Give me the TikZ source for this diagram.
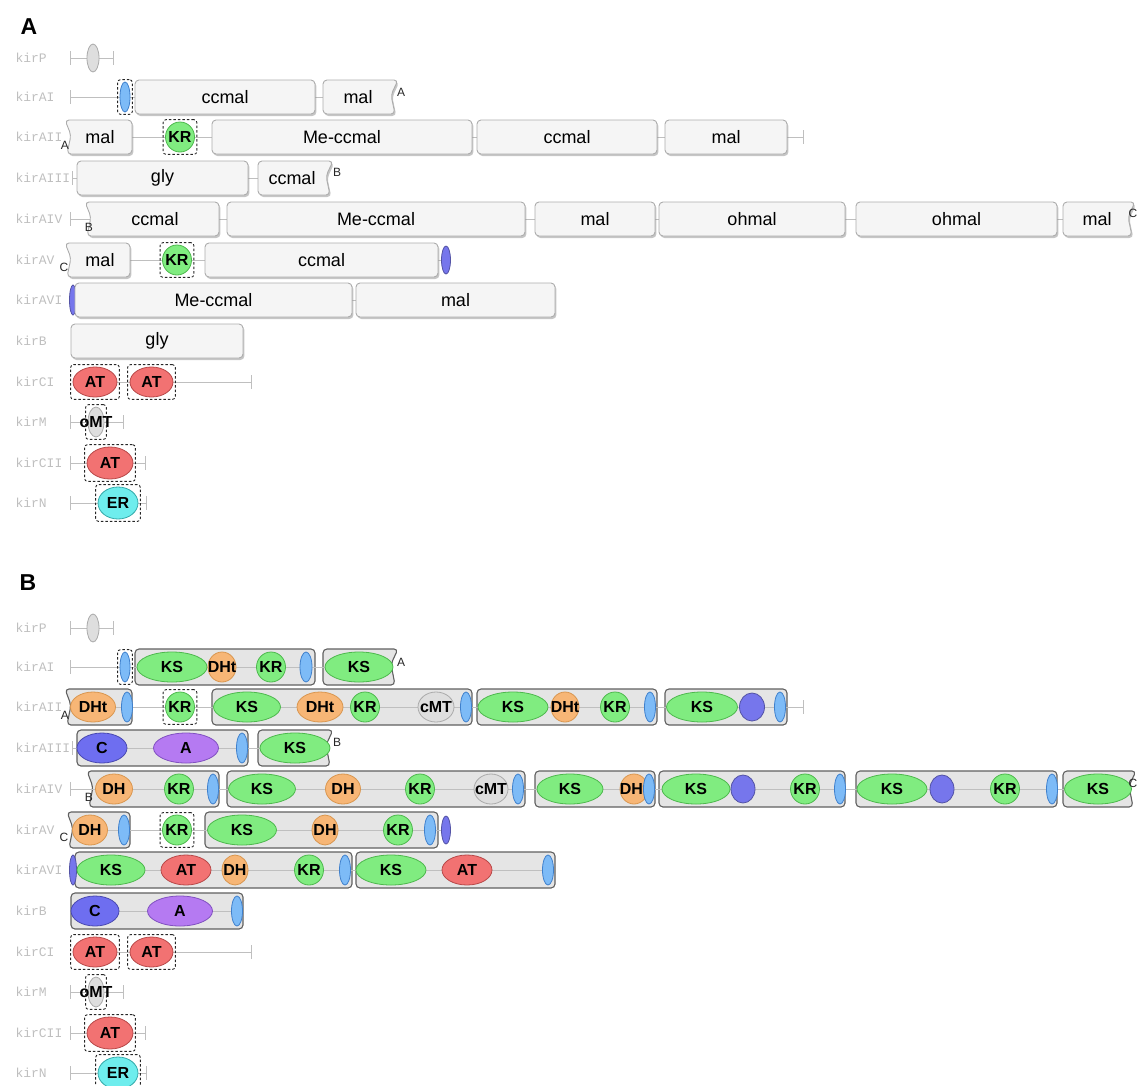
\documentclass[tikz,border=0pt]{standalone}
\usepackage{fontspec}
\setmainfont{Liberation Sans}
\setmonofont{Liberation Mono}
\usetikzlibrary{shapes.geometric,fit,shadows}
\definecolor{ksfill}{HTML}{80EC80}
\definecolor{ksline}{HTML}{4DB84D}
\definecolor{dhfill}{HTML}{F7B676}
\definecolor{dhline}{HTML}{D9964F}
\definecolor{atfill}{HTML}{F27272}
\definecolor{atline}{HTML}{B84848}
\definecolor{acpfill}{HTML}{7DBBF7}
\definecolor{acpline}{HTML}{3F80CC}
\definecolor{cfill}{HTML}{6E6EF0}
\definecolor{cline}{HTML}{4848B0}
\definecolor{afill}{HTML}{B57AF2}
\definecolor{aline}{HTML}{8050C0}
\definecolor{mtfill}{HTML}{DEDEDE}
\definecolor{mtline}{HTML}{AAAAAA}
\definecolor{erfill}{HTML}{6EEDED}
\definecolor{erline}{HTML}{33AAAA}
\definecolor{tefill}{HTML}{7676EC}
\pgfdeclarelayer{modl}
\pgfdeclarelayer{line}
\pgfsetlayers{modl,line,main}

\begin{document}
\begin{tikzpicture}[x=1pt, y=-1pt,
    gname/.style={anchor=west, font=\ttfamily\fontsize{13}{13}\selectfont, text=gray!50},
    panel/.style={font=\bfseries\fontsize{23}{23}\selectfont, inner sep=0pt},
    nlet/.style={font=\fontsize{12}{12}\selectfont, text=gray!30!black, inner sep=0pt},
    bb/.style={draw=gray!50, line width=0.8pt},
    box/.style={rectangle, rounded corners=4pt, fill=gray!8, draw=gray!65, line width=0.9pt, minimum height=34pt, inner sep=0pt, font=\fontsize{18}{18}\selectfont, drop shadow={shadow xshift=1.4pt, shadow yshift=-2pt, opacity=0.45}},
    boxedge/.style={rounded corners=4pt, fill=gray!8, draw=gray!65, line width=0.9pt, drop shadow={shadow xshift=1.4pt, shadow yshift=-2pt, opacity=0.45}},
    boxtxt/.style={font=\fontsize{18}{18}\selectfont, inner sep=0pt},
    mdl/.style={rectangle, rounded corners=4pt, fill=gray!20, draw=gray!75!black, line width=1.1pt, minimum height=36pt, inner sep=0pt},
    mdledge/.style={rounded corners=4pt, fill=gray!20, draw=gray!75!black, line width=1.1pt},
    dlab/.style={font=\bfseries\fontsize{16}{16}\selectfont, inner sep=0pt},
    dom/.style={ellipse, inner sep=0pt, minimum height=30pt, line width=0.8pt, label={[dlab]center:#1}},
    ks/.style={dom=KS, fill=ksfill, draw=ksline},
    kr/.style={dom=KR, fill=ksfill, draw=ksline, minimum width=29pt},
    dh/.style={dom=#1, fill=dhfill, draw=dhline},
    atd/.style={dom=AT, fill=atfill, draw=atline},
    acp/.style={dom={}, fill=acpfill, draw=acpline, minimum width=11pt},
    cd/.style={dom=C, fill=cfill, draw=cline},
    ad/.style={dom=A, fill=afill, draw=aline},
    mt/.style={dom=#1, fill=mtfill, draw=mtline},
    er/.style={dom=ER, fill=erfill, draw=erline},
    te/.style={dom={}, fill=tefill, draw=tefill!70!black},
    dbox/.style={draw=gray!30!black, dash pattern=on 2.5pt off 2pt, rounded corners=3pt, inner sep=2pt, line width=0.9pt}]
\useasboundingbox (0, 0) rectangle (1138, 1085);

% ---------- A ----------
\node [panel] (pA) at (29, 27) {A};
\node [gname] (nAP) at (12, 58) {kirP};
\node [gname] (nAI) at (12, 97) {kirAI};
\node [gname] (nAII) at (12, 137) {kirAII};
\node [gname] (nAIII) at (12, 178) {kirAIII};
\node [gname] (nAIV) at (12, 219) {kirAIV};
\node [gname] (nAV) at (12, 260) {kirAV};
\node [gname] (nAVI) at (12, 300) {kirAVI};
\node [gname] (nAB) at (12, 341) {kirB};
\node [gname] (nACI) at (12, 382) {kirCI};
\node [gname] (nAM) at (12, 422) {kirM};
\node [gname] (nACII) at (12, 463) {kirCII};
\node [gname] (nAN) at (12, 503) {kirN};

% kirP
\coordinate (aP0) at (70, 58);
\coordinate (aP1) at (113, 58);
\node [mt={}, minimum width=12pt, minimum height=28pt] (aPmt) at (93, 58) {};

% kirAI
\coordinate (aI0) at (70, 97);
\node [acp, minimum width=10pt] (aIacp) at (125, 97) {};
\node [dbox, fit=(aIacp)] (aIacpb) {};
\node [box, minimum width=180pt] (aIm1) at (225, 97) {ccmal};
\draw [boxedge] (323, 80) -- (398, 80) -- (391, 95) -- (395, 114) -- (323, 114) -- cycle;
\node [boxtxt] (aIm2) at (358, 97) {mal};
\node [nlet] (aIA) at (401, 92) {A};

% kirAII
\draw [boxedge] (65, 120) -- (132, 120) -- (132, 154) -- (67, 154) -- (71, 135) -- cycle;
\node [boxtxt] (aIIm1) at (100, 137) {mal};
\node [nlet] (aIIA) at (65, 145) {A};
\node [kr] (aIIkr) at (180, 137) {};
\node [dbox, fit=(aIIkr)] (aIIkrb) {};
\node [box, minimum width=260pt] (aIIm2) at (342, 137) {Me-ccmal};
\node [box, minimum width=180pt] (aIIm3) at (567, 137) {ccmal};
\node [box, minimum width=122pt] (aIIm4) at (726, 137) {mal};
\coordinate (aII1) at (803, 137);

% kirAIII
\coordinate (aIII0) at (72, 178);
\node [box, minimum width=171pt] (aIIIm1) at (162.5, 178) {gly};
\draw [boxedge] (258, 161) -- (333, 161) -- (326, 176) -- (330, 195) -- (258, 195) -- cycle;
\node [boxtxt] (aIIIm2) at (292, 178) {ccmal};
\node [nlet] (aIIIB) at (337, 172) {B};

% kirAIV
\coordinate (aIV0) at (70, 219);
\draw [boxedge] (85, 202) -- (219, 202) -- (219, 236) -- (87, 236) -- (91, 217) -- cycle;
\node [boxtxt] (aIVm1) at (155, 219) {ccmal};
\node [nlet] (aIVB) at (89, 227) {B};
\node [box, minimum width=298pt] (aIVm2) at (376, 219) {Me-ccmal};
\node [box, minimum width=120pt] (aIVm3) at (595, 219) {mal};
\node [box, minimum width=186pt] (aIVm4) at (752, 219) {ohmal};
\node [box, minimum width=201pt] (aIVm5) at (956.5, 219) {ohmal};
\draw [boxedge] (1063, 202) -- (1135, 202) -- (1128, 217) -- (1132, 236) -- (1063, 236) -- cycle;
\node [boxtxt] (aIVm6) at (1097, 219) {mal};
\node [nlet] (aIVC) at (1133, 213) {C};

% kirAV
\draw [boxedge] (65, 243) -- (130, 243) -- (130, 277) -- (67, 277) -- (71, 258) -- cycle;
\node [boxtxt] (aVm1) at (100, 260) {mal};
\node [nlet] (aVC) at (64, 267) {C};
\node [kr] (aVkr) at (177, 260) {};
\node [dbox, fit=(aVkr)] (aVkrb) {};
\node [box, minimum width=233pt] (aVm2) at (321.5, 260) {ccmal};
\node [te, minimum width=9pt, minimum height=28pt] (aVte) at (446, 260) {};

% kirAVI
\node [te, minimum width=7pt] (aVIte) at (73, 300) {};
\node [box, minimum width=277pt] (aVIm1) at (213.5, 300) {Me-ccmal};
\node [box, minimum width=199pt] (aVIm2) at (455.5, 300) {mal};

% kirB
\node [box, minimum width=172pt] (aBm1) at (157, 341) {gly};

% kirCI
\node [atd, minimum width=44pt] (aCIat1) at (95, 382) {};
\node [dbox, fit=(aCIat1)] (aCIat1b) {};
\node [atd, minimum width=43pt] (aCIat2) at (151.5, 382) {};
\node [dbox, fit=(aCIat2)] (aCIat2b) {};
\coordinate (aCI1) at (251, 382);

% kirM
\coordinate (aM0) at (70, 422);
\node [mt=oMT, minimum width=16pt] (aMmt) at (96, 422) {};
\node [dbox, fit=(aMmt)] (aMmtb) {};
\coordinate (aM1) at (123, 422);

% kirCII
\coordinate (aCII0) at (70, 463);
\node [atd, minimum width=46pt, minimum height=32pt] (aCIIat) at (110, 463) {};
\node [dbox, fit=(aCIIat)] (aCIIatb) {};
\coordinate (aCII1) at (145, 463);

% kirN
\coordinate (aN0) at (70, 503);
\node [er, minimum width=40pt, minimum height=32pt] (aNer) at (118, 503) {};
\node [dbox, fit=(aNer)] (aNerb) {};
\coordinate (aN1) at (146, 503);

\begin{pgfonlayer}{line}
    \draw [bb] (aP0) -- (aP1);
    \draw [bb] (aI0) -- (aIm2);
    \draw [bb] (aIIm1) -- (aII1);
    \draw [bb] (aIII0) -- (aIIIm2);
    \draw [bb] (aIV0) -- (aIVm6);
    \draw [bb] (aVm1) -- (aVte);
    \draw [bb] (aVIte) -- (aVIm2);
    \draw [bb] (aCIat1) -- (aCI1);
    \draw [bb] (aM0) -- (aM1);
    \draw [bb] (aCII0) -- (aCII1);
    \draw [bb] (aN0) -- (aN1);
    \draw [bb] ([yshift=7pt] aP0) -- ([yshift=-7pt] aP0);
    \draw [bb] ([yshift=7pt] aP1) -- ([yshift=-7pt] aP1);
    \draw [bb] ([yshift=7pt] aI0) -- ([yshift=-7pt] aI0);
    \draw [bb] ([yshift=7pt] aII1) -- ([yshift=-7pt] aII1);
    \draw [bb] ([yshift=7pt] aIII0) -- ([yshift=-7pt] aIII0);
    \draw [bb] ([yshift=7pt] aIV0) -- ([yshift=-7pt] aIV0);
    \draw [bb] ([yshift=7pt] aCI1) -- ([yshift=-7pt] aCI1);
    \draw [bb] ([yshift=7pt] aM0) -- ([yshift=-7pt] aM0);
    \draw [bb] ([yshift=7pt] aM1) -- ([yshift=-7pt] aM1);
    \draw [bb] ([yshift=7pt] aCII0) -- ([yshift=-7pt] aCII0);
    \draw [bb] ([yshift=7pt] aCII1) -- ([yshift=-7pt] aCII1);
    \draw [bb] ([yshift=7pt] aN0) -- ([yshift=-7pt] aN0);
    \draw [bb] ([yshift=7pt] aN1) -- ([yshift=-7pt] aN1);
\end{pgfonlayer}

% ---------- B ----------
\node [panel] (pB) at (28, 583) {B};
\node [gname] (nBP) at (12, 628) {kirP};
\node [gname] (nBI) at (12, 667) {kirAI};
\node [gname] (nBII) at (12, 707) {kirAII};
\node [gname] (nBIII) at (12, 748) {kirAIII};
\node [gname] (nBIV) at (12, 789) {kirAIV};
\node [gname] (nBV) at (12, 830) {kirAV};
\node [gname] (nBVI) at (12, 870) {kirAVI};
\node [gname] (nBB) at (12, 911) {kirB};
\node [gname] (nBCI) at (12, 952) {kirCI};
\node [gname] (nBM) at (12, 992) {kirM};
\node [gname] (nBCII) at (12, 1033) {kirCII};
\node [gname] (nBN) at (12, 1073) {kirN};

% modules
\begin{pgfonlayer}{modl}
    \node [mdl, minimum width=180pt] (bIm1) at (225, 667) {};
    \draw [mdledge] (323, 649) -- (398, 649) -- (391, 664) -- (395, 685) -- (323, 685) -- cycle;
    \draw [mdledge] (65, 689) -- (132, 689) -- (132, 725) -- (67, 725) -- (71, 705) -- cycle;
    \node [mdl, minimum width=260pt] (bIIm2) at (342, 707) {};
    \node [mdl, minimum width=180pt] (bIIm3) at (567, 707) {};
    \node [mdl, minimum width=122pt] (bIIm4) at (726, 707) {};
    \node [mdl, minimum width=171pt] (bIIIm1) at (162.5, 748) {};
    \draw [mdledge] (258, 730) -- (333, 730) -- (326, 745) -- (330, 766) -- (258, 766) -- cycle;
    \draw [mdledge] (87, 771) -- (219, 771) -- (219, 807) -- (89, 807) -- (93, 787) -- cycle;
    \node [mdl, minimum width=298pt] (bIVm2) at (376, 789) {};
    \node [mdl, minimum width=120pt] (bIVm3) at (595, 789) {};
    \node [mdl, minimum width=186pt] (bIVm4) at (752, 789) {};
    \node [mdl, minimum width=201pt] (bIVm5) at (956.5, 789) {};
    \draw [mdledge] (1063, 771) -- (1136, 771) -- (1129, 786) -- (1133, 807) -- (1063, 807) -- cycle;
    \draw [mdledge] (67, 812) -- (130, 812) -- (130, 848) -- (69, 848) -- (73, 828) -- cycle;
    \node [mdl, minimum width=233pt] (bVm2) at (321.5, 830) {};
    \node [mdl, minimum width=277pt] (bVIm1) at (213.5, 870) {};
    \node [mdl, minimum width=199pt] (bVIm2) at (455.5, 870) {};
    \node [mdl, minimum width=172pt] (bBm1) at (157, 911) {};
\end{pgfonlayer}

% kirP
\coordinate (bP0) at (70, 628);
\coordinate (bP1) at (113, 628);
\node [mt={}, minimum width=12pt, minimum height=28pt] (bPmt) at (93, 628) {};

% kirAI
\coordinate (bI0) at (70, 667);
\node [acp, minimum width=10pt] (bIacp1) at (125, 667) {};
\node [dbox, fit=(bIacp1)] (bIacp1b) {};
\node [ks, minimum width=70pt] (bIks1) at (172, 667) {};
\node [dh=DHt, minimum width=28pt] (bIdh) at (222, 667) {};
\node [kr] (bIkr) at (271, 667) {};
\node [acp, minimum width=12pt] (bIacp2) at (306, 667) {};
\node [ks, minimum width=68pt] (bIks2) at (359, 667) {};
\node [nlet] (bIA) at (401, 662) {A};

% kirAII
\node [dh=DHt, minimum width=45pt] (bIIdh1) at (93, 707) {};
\node [acp] (bIIacp1) at (127, 707) {};
\node [nlet] (bIIA) at (65, 715) {A};
\node [kr] (bIIkr1) at (180, 707) {};
\node [dbox, fit=(bIIkr1)] (bIIkr1b) {};
\node [ks, minimum width=67pt] (bIIks1) at (247, 707) {};
\node [dh=DHt, minimum width=46pt] (bIIdh2) at (320, 707) {};
\node [kr] (bIIkr2) at (365, 707) {};
\node [mt=cMT, minimum width=36pt] (bIImt) at (436, 707) {};
\node [acp] (bIIacp2) at (466, 707) {};
\node [ks, minimum width=70pt] (bIIks2) at (513, 707) {};
\node [dh=DHt, minimum width=28pt] (bIIdh3) at (565, 707) {};
\node [kr] (bIIkr3) at (615, 707) {};
\node [acp] (bIIacp3) at (650, 707) {};
\node [ks, minimum width=71pt] (bIIks3) at (702, 707) {};
\node [te, minimum width=25pt, minimum height=28pt] (bIIte) at (752, 707) {};
\node [acp] (bIIacp4) at (780, 707) {};
\coordinate (bII1) at (803, 707);

% kirAIII
\coordinate (bIII0) at (72, 748);
\node [cd, minimum width=50pt] (bIIIc) at (102, 748) {};
\node [ad, minimum width=65pt] (bIIIa) at (186, 748) {};
\node [acp] (bIIIacp) at (242, 748) {};
\node [ks, minimum width=70pt] (bIIIks) at (295, 748) {};
\node [nlet] (bIIIB) at (337, 742) {B};

% kirAIV
\coordinate (bIV0) at (70, 789);
\node [dh=DH, minimum width=37pt] (bIVdh1) at (114, 789) {};
\node [kr] (bIVkr1) at (179, 789) {};
\node [acp] (bIVacp1) at (213, 789) {};
\node [nlet] (bIVB) at (89, 797) {B};
\node [ks, minimum width=67pt] (bIVks1) at (262, 789) {};
\node [dh=DH, minimum width=35pt] (bIVdh2) at (343, 789) {};
\node [kr] (bIVkr2) at (420, 789) {};
\node [mt=cMT, minimum width=34pt] (bIVmt) at (491, 789) {};
\node [acp] (bIVacp2) at (518, 789) {};
\node [ks, minimum width=66pt] (bIVks2) at (570, 789) {};
\node [dh=DHt, minimum width=28pt] (bIVdh3) at (634, 789) {};
\node [acp] (bIVacp3) at (649, 789) {};
\node [ks, minimum width=68pt] (bIVks3) at (696, 789) {};
\node [te, minimum width=24pt, minimum height=28pt] (bIVte1) at (743, 789) {};
\node [kr] (bIVkr3) at (805, 789) {};
\node [acp] (bIVacp4) at (840, 789) {};
\node [ks, minimum width=70pt] (bIVks4) at (892, 789) {};
\node [te, minimum width=24pt, minimum height=28pt] (bIVte2) at (942, 789) {};
\node [kr] (bIVkr4) at (1005, 789) {};
\node [acp] (bIVacp5) at (1052, 789) {};
\node [ks, minimum width=67pt] (bIVks5) at (1098, 789) {};
\node [nlet] (bIVC) at (1133, 783) {C};

% kirAV
\node [dh=DH, minimum width=35pt] (bVdh1) at (90, 830) {};
\node [acp] (bVacp1) at (124, 830) {};
\node [nlet] (bVC) at (64, 837) {C};
\node [kr] (bVkr1) at (177, 830) {};
\node [dbox, fit=(bVkr1)] (bVkr1b) {};
\node [ks, minimum width=69pt] (bVks) at (242, 830) {};
\node [dh=DH, minimum width=26pt] (bVdh2) at (325, 830) {};
\node [kr] (bVkr2) at (398, 830) {};
\node [acp] (bVacp2) at (430, 830) {};
\node [te, minimum width=9pt, minimum height=28pt] (bVte) at (446, 830) {};

% kirAVI
\node [te, minimum width=7pt] (bVIte) at (73, 870) {};
\node [ks, minimum width=68pt] (bVIks1) at (111, 870) {};
\node [atd, minimum width=50pt] (bVIat1) at (186, 870) {};
\node [dh=DH, minimum width=26pt] (bVIdh) at (235, 870) {};
\node [kr] (bVIkr) at (309, 870) {};
\node [acp] (bVIacp1) at (345, 870) {};
\node [ks, minimum width=70pt] (bVIks2) at (391, 870) {};
\node [atd, minimum width=50pt] (bVIat2) at (467, 870) {};
\node [acp] (bVIacp2) at (548, 870) {};

% kirB
\node [cd, minimum width=48pt] (bBc) at (95, 911) {};
\node [ad, minimum width=65pt] (bBa) at (180, 911) {};
\node [acp] (bBacp) at (237, 911) {};

% kirCI
\node [atd, minimum width=44pt] (bCIat1) at (95, 952) {};
\node [dbox, fit=(bCIat1)] (bCIat1b) {};
\node [atd, minimum width=43pt] (bCIat2) at (151.5, 952) {};
\node [dbox, fit=(bCIat2)] (bCIat2b) {};
\coordinate (bCI1) at (251, 952);

% kirM
\coordinate (bM0) at (70, 992);
\node [mt=oMT, minimum width=16pt] (bMmt) at (96, 992) {};
\node [dbox, fit=(bMmt)] (bMmtb) {};
\coordinate (bM1) at (123, 992);

% kirCII
\coordinate (bCII0) at (70, 1033);
\node [atd, minimum width=46pt, minimum height=32pt] (bCIIat) at (110, 1033) {};
\node [dbox, fit=(bCIIat)] (bCIIatb) {};
\coordinate (bCII1) at (145, 1033);

% kirN
\coordinate (bN0) at (70, 1073);
\node [er, minimum width=40pt, minimum height=32pt] (bNer) at (118, 1073) {};
\node [dbox, fit=(bNer)] (bNerb) {};
\coordinate (bN1) at (146, 1073);

\begin{pgfonlayer}{line}
    \draw [bb] (bP0) -- (bP1);
    \draw [bb] (bI0) -- (bIks2);
    \draw [bb] (bIIdh1) -- (bII1);
    \draw [bb] (bIII0) -- (bIIIks);
    \draw [bb] (bIV0) -- (bIVks5);
    \draw [bb] (bVdh1) -- (bVte);
    \draw [bb] (bVIte) -- (bVIacp2);
    \draw [bb] (bBc) -- (bBacp);
    \draw [bb] (bCIat1) -- (bCI1);
    \draw [bb] (bM0) -- (bM1);
    \draw [bb] (bCII0) -- (bCII1);
    \draw [bb] (bN0) -- (bN1);
    \draw [bb] ([yshift=7pt] bP0) -- ([yshift=-7pt] bP0);
    \draw [bb] ([yshift=7pt] bP1) -- ([yshift=-7pt] bP1);
    \draw [bb] ([yshift=7pt] bI0) -- ([yshift=-7pt] bI0);
    \draw [bb] ([yshift=7pt] bII1) -- ([yshift=-7pt] bII1);
    \draw [bb] ([yshift=7pt] bIII0) -- ([yshift=-7pt] bIII0);
    \draw [bb] ([yshift=7pt] bIV0) -- ([yshift=-7pt] bIV0);
    \draw [bb] ([yshift=7pt] bCI1) -- ([yshift=-7pt] bCI1);
    \draw [bb] ([yshift=7pt] bM0) -- ([yshift=-7pt] bM0);
    \draw [bb] ([yshift=7pt] bM1) -- ([yshift=-7pt] bM1);
    \draw [bb] ([yshift=7pt] bCII0) -- ([yshift=-7pt] bCII0);
    \draw [bb] ([yshift=7pt] bCII1) -- ([yshift=-7pt] bCII1);
    \draw [bb] ([yshift=7pt] bN0) -- ([yshift=-7pt] bN0);
    \draw [bb] ([yshift=7pt] bN1) -- ([yshift=-7pt] bN1);
\end{pgfonlayer}
\end{tikzpicture}
\end{document}
